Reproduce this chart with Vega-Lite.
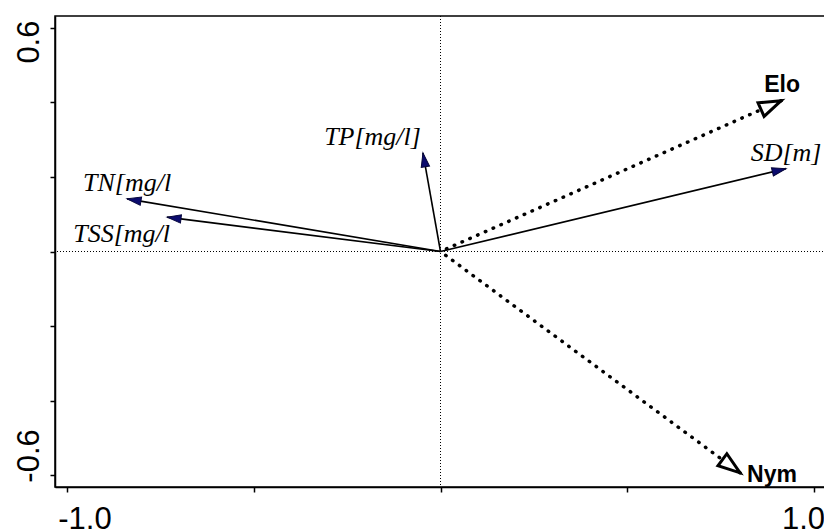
{
  "$schema": "https://vega.github.io/schema/vega-lite/v6.json",
  "width": 771,
  "height": 471,
  "autosize": {"type": "none"},
  "padding": {"left": 55, "top": 16, "right": -2, "bottom": 42},
  "background": "white",
  "config": {
    "view": {"stroke": "black", "strokeWidth": 1.5},
    "axis": {
      "grid": false,
      "title": null,
      "domainColor": "black",
      "domainWidth": 1.5,
      "tickColor": "black",
      "tickWidth": 1.5,
      "tickSize": 5,
      "labelColor": "black",
      "labelFont": "Liberation Sans",
      "labelFontSize": 31,
      "labelFlush": false,
      "labelOverlap": false,
      "labelBound": false
    }
  },
  "data": {
    "values": [
      {"name": "TN[mg/l", "kind": "env", "x": -0.839, "y": 0.141},
      {"name": "TSS[mg/l", "kind": "env", "x": -0.732, "y": 0.092},
      {"name": "TP[mg/l]", "kind": "env", "x": -0.047, "y": 0.264},
      {"name": "SD[m]", "kind": "env", "x": 0.925, "y": 0.222},
      {"name": "Elo", "kind": "nominal", "x": 0.912, "y": 0.404},
      {"name": "Nym", "kind": "nominal", "x": 0.802, "y": -0.593}
    ]
  },
  "layer": [
    {
      "data": {"values": [{"v": 0}]},
      "mark": {"type": "rule", "color": "black", "strokeWidth": 1, "strokeDash": [1, 2]},
      "encoding": {"x": {"field": "v", "type": "quantitative"}}
    },
    {
      "data": {"values": [{"v": 0}]},
      "mark": {"type": "rule", "color": "black", "strokeWidth": 1, "strokeDash": [1, 2]},
      "encoding": {"y": {"field": "v", "type": "quantitative"}}
    },
    {
      "transform": [{"filter": "datum.kind === 'env'"}],
      "mark": {"type": "rule", "color": "black", "strokeWidth": 1.6},
      "encoding": {
        "x": {
          "field": "x",
          "type": "quantitative",
          "scale": {"domain": [-1.032, 1.032], "nice": false, "zero": false},
          "axis": {
            "values": [-1, -0.5, 0, 0.5, 1],
            "labelExpr": "datum.value > 0.9 ? '1.0' : (datum.value < -0.9 ? '-1.0' : '')",
            "labelAlign": "center",
            "labelBaseline": "top",
            "labelPadding": 12,
            "labelOffset": {"condition": {"test": "datum.value < 0", "value": 17.5}, "value": -11}
          }
        },
        "y": {
          "field": "y",
          "type": "quantitative",
          "scale": {"domain": [-0.631, 0.631], "nice": false, "zero": false},
          "axis": {
            "values": [-0.6, -0.4, -0.2, 0, 0.2, 0.4, 0.6],
            "labelExpr": "datum.value > 0.5 ? '0.6' : (datum.value < -0.5 ? '-0.6' : '')",
            "labelAngle": 270,
            "labelAlign": "center",
            "labelBaseline": "alphabetic",
            "labelPadding": 12,
            "labelOffset": {"condition": {"test": "datum.value > 0", "value": 14}, "value": -20}
          }
        },
        "x2": {"datum": 0},
        "y2": {"datum": 0}
      }
    },
    {
      "transform": [{"filter": "datum.kind === 'nominal'"}],
      "mark": {"type": "rule", "color": "black", "strokeWidth": 3.5, "strokeDash": [0.5, 8], "strokeCap": "round"},
      "encoding": {
        "x": {"field": "x", "type": "quantitative"},
        "y": {"field": "y", "type": "quantitative"},
        "x2": {"datum": 0},
        "y2": {"datum": 0}
      }
    },
    {
      "transform": [{"filter": "datum.kind === 'env'"}],
      "mark": {
        "type": "point",
        "shape": "M0,0L-1,-0.3L-1,0.3Z",
        "filled": true,
        "fill": "#0b0b6e",
        "stroke": "#05053a",
        "strokeWidth": 1,
        "opacity": 1,
        "size": 784
      },
      "encoding": {
        "x": {"field": "x", "type": "quantitative"},
        "y": {"field": "y", "type": "quantitative"},
        "angle": {
          "condition": [
            {"test": "datum.name === 'SD[m]'", "value": 346.5},
            {"test": "datum.name === 'TP[mg/l]'", "value": 259.9},
            {"test": "datum.name === 'TN[mg/l'", "value": 189.5}
          ],
          "value": 187.2
        }
      }
    },
    {
      "transform": [{"filter": "datum.kind === 'nominal'"}],
      "mark": {
        "type": "point",
        "shape": "M0,0L-1,-0.34L-1,0.34Z",
        "filled": true,
        "fill": "white",
        "stroke": "black",
        "strokeWidth": 3,
        "opacity": 1,
        "size": 1936
      },
      "encoding": {
        "x": {"field": "x", "type": "quantitative"},
        "y": {"field": "y", "type": "quantitative"},
        "angle": {
          "condition": {"test": "datum.name === 'Elo'", "value": 336.1},
          "value": 36.5
        }
      }
    },
    {
      "transform": [{"filter": "datum.name === 'Elo'"}],
      "mark": {"type": "text", "font": "Liberation Sans", "fontWeight": "bold", "fontSize": 23, "color": "black", "align": "center", "baseline": "alphabetic", "dx": 1, "dy": -9},
      "encoding": {
        "x": {"field": "x", "type": "quantitative"},
        "y": {"field": "y", "type": "quantitative"},
        "text": {"field": "name"}
      }
    },
    {
      "transform": [{"filter": "datum.name === 'Nym'"}],
      "mark": {"type": "text", "font": "Liberation Sans", "fontWeight": "bold", "fontSize": 23, "color": "black", "align": "left", "baseline": "alphabetic", "dx": 7, "dy": 9},
      "encoding": {
        "x": {"field": "x", "type": "quantitative"},
        "y": {"field": "y", "type": "quantitative"},
        "text": {"field": "name"}
      }
    },
    {
      "transform": [{"filter": "datum.name === 'SD[m]' || datum.name === 'TN[mg/l'"}],
      "mark": {"type": "text", "font": "Liberation Serif", "fontStyle": "italic", "fontSize": 26, "color": "black", "align": "center", "baseline": "alphabetic", "dy": -8},
      "encoding": {
        "x": {"field": "x", "type": "quantitative"},
        "y": {"field": "y", "type": "quantitative"},
        "text": {"field": "name"}
      }
    },
    {
      "transform": [{"filter": "datum.name === 'TP[mg/l]'"}],
      "mark": {"type": "text", "font": "Liberation Serif", "fontStyle": "italic", "fontSize": 26, "color": "black", "align": "right", "baseline": "alphabetic", "dx": -2, "dy": -8},
      "encoding": {
        "x": {"field": "x", "type": "quantitative"},
        "y": {"field": "y", "type": "quantitative"},
        "text": {"field": "name"}
      }
    },
    {
      "transform": [{"filter": "datum.name === 'TSS[mg/l'"}],
      "mark": {"type": "text", "font": "Liberation Serif", "fontStyle": "italic", "fontSize": 26, "color": "black", "align": "right", "baseline": "alphabetic", "dx": 3, "dy": 25},
      "encoding": {
        "x": {"field": "x", "type": "quantitative"},
        "y": {"field": "y", "type": "quantitative"},
        "text": {"field": "name"}
      }
    }
  ]
}
